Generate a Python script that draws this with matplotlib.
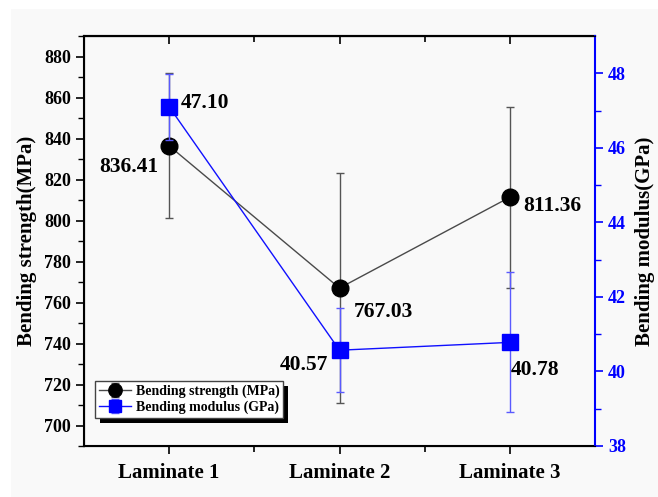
import numpy as np
import matplotlib.pyplot as plt
from matplotlib.patches import Rectangle
from matplotlib.transforms import IdentityTransform

plt.rcParams['font.family'] = ['Liberation Serif', 'DejaVu Serif']
plt.rcParams['font.weight'] = 'bold'

samples = ["Laminate 1", "Laminate 2", "Laminate 3"]
strength = [836.41, 767.03, 811.36]
strength_err = [35.3, 56.1, 44.2]
modulus = [47.10, 40.57, 40.78]
modulus_err = [0.88, 1.13, 1.88]
strength_labels = ["836.41", "767.03", "811.36"]
modulus_labels = ["47.10", "40.57", "40.78"]

fig = plt.figure(figsize=(6.58, 4.97), dpi=100, facecolor='white')
fig.patches.append(Rectangle((11 / 658, 0), 1, 1 - 9 / 497, transform=fig.transFigure,
                             facecolor='#f9f9f9', edgecolor='none', zorder=-10))
ax = fig.add_axes([84 / 658, 1 - 446 / 497, (595 - 84) / 658, (446 - 36) / 497])
ax.set_facecolor('#f9f9f9')
ax2 = ax.twinx()

x = np.arange(1, len(samples) + 1)

ax.errorbar(x, strength, yerr=strength_err, color='#4a4a4a', ecolor='#555555',
            elinewidth=1, capsize=3, capthick=1, lw=1, marker='o', ms=12,
            mfc='black', mec='black', label='Bending strength (MPa)', zorder=3)
ax2.errorbar(x, modulus, yerr=modulus_err, color='#1010ff', ecolor='#5a5aff',
             elinewidth=1, capsize=3, capthick=1, lw=1, marker='s', ms=11,
             mfc='#0000ff', mec='#0000ff', label='Bending modulus (GPa)', zorder=3)

ax.set_xlim(0.5, 3.5)
ax.set_ylim(690, 890)
ax2.set_ylim(38, 49)
ax.set_xticks(x)
ax.set_xticklabels(samples, fontsize=15, fontweight='bold')
ax.set_xticks([1.5, 2.5], minor=True)
ax.set_yticks(np.arange(700, 881, 20))
ax.set_yticks(np.arange(690, 891, 10), minor=True)
ax2.set_yticks(np.arange(38, 49, 2))
ax2.set_yticks(np.arange(39, 49, 2), minor=True)

ax.tick_params(axis='x', which='both', direction='out', length=6, width=1.2, pad=6)
ax.tick_params(axis='x', which='minor', length=4)
ax.tick_params(axis='y', which='major', direction='out', length=6, width=1.2,
               labelsize=13)
ax.tick_params(axis='y', which='minor', direction='out', length=4, width=1)
ax2.tick_params(axis='y', which='major', direction='out', length=6, width=1.2,
                colors='#0000ff', labelsize=13)
ax2.tick_params(axis='y', which='minor', direction='out', length=4, width=1,
                colors='#0000ff')
for lab in ax.get_yticklabels() + ax2.get_yticklabels():
    lab.set_fontweight('bold')

# top axis with inward ticks
top = ax.secondary_xaxis('top')
top.set_xticks(x)
top.set_xticks([1.5, 2.5], minor=True)
top.tick_params(axis='x', which='both', direction='in', labeltop=False, width=1.2)
top.tick_params(axis='x', which='major', length=6)
top.tick_params(axis='x', which='minor', length=4)
top.spines['top'].set_linewidth(1.5)

for side in ['left', 'bottom', 'top']:
    ax.spines[side].set_linewidth(1.5)
ax2.spines['right'].set_color('#0000ff')
ax2.spines['right'].set_linewidth(1.5)
ax.spines['right'].set_visible(False)

ax.set_ylabel('Bending strength(MPa)', fontsize=15, fontweight='bold', labelpad=5)
ax2.set_ylabel('Bending modulus(GPa)', fontsize=15, fontweight='bold', labelpad=6)

# value labels
s_off = [(-8, -15, 'right'), (10, -17, 'left'), (10, -6, 'left')]
for xi, yi, txt, (dx, dy, ha) in zip(x, strength, strength_labels, s_off):
    ax.annotate(txt, (xi, yi), xytext=(dx, dy), textcoords='offset points',
                ha=ha, va='center', fontsize=15.5, fontweight='bold')
m_off = [(8, 3, 'left'), (-8, -11, 'right'), (1, -20, 'left')]
for xi, yi, txt, (dx, dy, ha) in zip(x, modulus, modulus_labels, m_off):
    ax2.annotate(txt, (xi, yi), xytext=(dx, dy), textcoords='offset points',
                 ha=ha, va='center', fontsize=15.5, fontweight='bold')

h1, l1 = ax.get_legend_handles_labels()
h2, l2 = ax2.get_legend_handles_labels()
leg = ax2.legend(h1 + h2, l1 + l2, loc='lower left', bbox_to_anchor=(0.022, 0.068),
                 prop={'weight': 'bold', 'size': 10}, frameon=True, framealpha=1,
                 fancybox=False, handlelength=2.3, borderpad=0.3, labelspacing=0.15,
                 handletextpad=0.3, markerscale=0.8, borderaxespad=0)
leg.get_frame().set_edgecolor('#444444')
leg.get_frame().set_facecolor('white')
leg.set_zorder(6)

fig.canvas.draw()
bb = leg.get_window_extent()
shadow = Rectangle((bb.x0 + 5, bb.y0 - 5), bb.width, bb.height, transform=IdentityTransform(),
                   facecolor='black', edgecolor='none', zorder=5.5, clip_on=False)
ax2.add_artist(shadow)

fig.savefig('out.png', dpi=100, facecolor=fig.get_facecolor())
